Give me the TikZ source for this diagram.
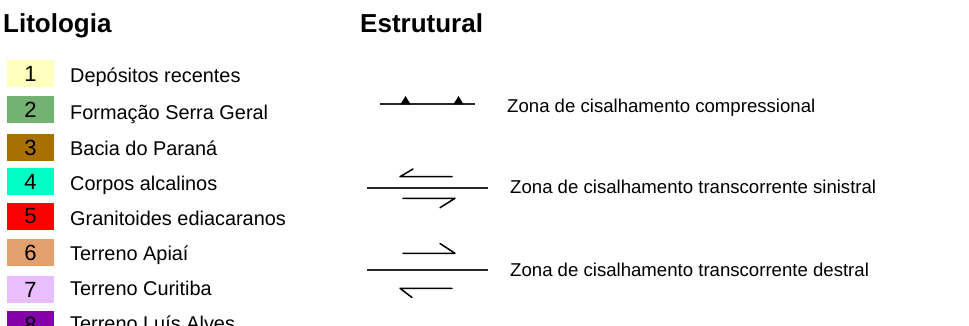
\documentclass[tikz,border=0pt]{standalone}
\usepackage{fontspec}
\setmainfont{Liberation Sans}
\definecolor{c1}{RGB}{255,255,190}
\definecolor{c2}{RGB}{115,178,115}
\definecolor{c3}{RGB}{168,112,0}
\definecolor{c4}{RGB}{0,255,197}
\definecolor{c5}{RGB}{255,0,0}
\definecolor{c6}{RGB}{225,160,110}
\definecolor{c7}{RGB}{232,190,255}
\definecolor{c8}{RGB}{132,0,168}
\definecolor{lineg}{RGB}{40,40,40}
\tikzset{
  swatch/.style={anchor=north west,minimum width=47pt,minimum height=27pt,inner sep=0pt,outer sep=0pt,
    font=\fontsize{22}{23}\selectfont,text=black},
  lab/.style={anchor=base west,inner sep=0pt,font=\fontsize{19.9}{21}\selectfont},
  slab/.style={anchor=base west,inner sep=0pt,font=\fontsize{18.6}{20}\selectfont},
  ttl/.style={anchor=base west,inner sep=0pt,font=\fontsize{26}{28}\selectfont\bfseries},
  mainline/.style={line width=2pt,lineg},
  halfarrow/.style={line width=1.5pt,black,line cap=round,line join=round},
}
\begin{document}
\begin{tikzpicture}[x=1pt,y=1pt]
\useasboundingbox (0,0) rectangle (969,-325);
\clip (0,0) rectangle (969,-325);
% titles
\node[ttl] (tlit) at (3,-32) {Litologia};
\node[ttl] (test) at (360,-32) {Estrutural};
% lithology swatches
\foreach \i/\t/\y/\b in {1/Depósitos recentes/60/82.7, 2/Formação Serra Geral/96/119.3, 3/Bacia do Paraná/134/155.7,
  4/Corpos alcalinos/168/190, 5/Granitoides ediacaranos/203/225, 6/Terreno Apiaí/239/260,
  7/Terreno Curitiba/276/295, 8/Terreno Luís Alves/311/330}{
  \node[swatch,fill=c\i] (sw\i) at (7,-\y) {\i};
  \node[lab] (lb\i) at (70,-\b) {\t};
}
% compressional
\draw[mainline] (380,-104.3) coordinate (ca) -- (475,-104.3) coordinate (cb);
\fill[black] (400.5,-104.3) -- (405.5,-96) -- (410.5,-104.3) -- cycle;
\fill[black] (453.5,-104.3) -- (458.5,-96) -- (463.5,-104.3) -- cycle;
\node[slab] (lc) at (507,-112) {Zona de cisalhamento compressional};
% sinistral
\draw[mainline] (367,-188) -- (488,-188);
\draw[halfarrow] (452,-176.7) -- (400,-176.7) -- (413,-169);
\draw[halfarrow] (403,-198.3) -- (455,-198.3) -- (440,-207.7);
\node[slab] (ls) at (510,-193.5) {Zona de cisalhamento transcorrente sinistral};
% dextral
\draw[mainline] (367,-270) -- (488,-270);
\draw[halfarrow] (403,-253.3) -- (455,-253.3) -- (440,-243.5);
\draw[halfarrow] (452,-288.3) -- (400,-288.3) -- (412,-297.5);
\node[slab] (ld) at (510,-276.5) {Zona de cisalhamento transcorrente destral};
\end{tikzpicture}
\end{document}
